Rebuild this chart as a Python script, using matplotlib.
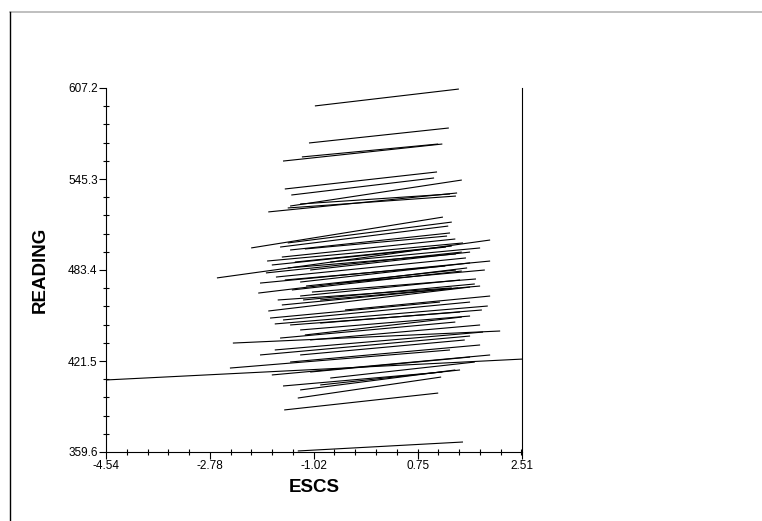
import matplotlib
matplotlib.use("Agg")
import matplotlib.pyplot as plt
from matplotlib.lines import Line2D
from matplotlib.ticker import AutoMinorLocator

plt.rcParams['font.family'] = ['Liberation Sans', 'DejaVu Sans']

# per-school regression lines of READING on ESCS
esc_lo = [-1.00, -1.10, -1.54, -1.22, -1.51, -1.40, -1.42, -1.79, -1.46, -1.25,
          -2.08, -1.46, -1.59, -1.42, -1.17, -1.81, -1.56, -2.66, -1.73, -1.93,
          -1.83, -1.46, -1.96, -1.25, -1.63, -1.39, -1.66, -1.15, -1.05, -1.79,
          -1.56, -1.20, -1.76, -1.68, -1.54, -0.91, -2.39, -1.17, -1.68, -2.44,
          -1.73, -1.54, -1.25, -1.29, -1.52, -1.29, -4.54, -1.34, -1.08, -1.51,
          -1.25, -0.91, -1.42, -1.25, -1.08, -1.59, -1.93, -1.25, -1.42, -1.08,
          -0.74, -0.91, -0.49, -0.74, -0.57]
esc_hi = [1.44, 1.27, 1.16, 1.09, 1.07, 1.02, 1.49, 1.41, 1.39, 1.29,
          1.17, 1.32, 1.26, 1.29, 1.24, 1.51, 1.38, 1.97, 1.22, 1.97,
          1.49, 1.39, 1.58, 1.63, 1.32, 1.49, 1.56, 1.39, 1.73, 1.63,
          1.43, 1.71, 1.12, 1.93, 1.63, 1.83, 2.14, 1.49, 1.85, 1.29,
          1.97, 1.16, 1.38, 1.14, 1.09, 1.51, 2.51, 1.32, 1.63, 1.21,
          1.46, 1.80, 1.46, 1.63, 1.80, 1.38, 1.63, 1.54, 1.80, 1.63,
          1.71, 1.46, 1.97, 1.80, 1.88]
read_lo = [595.0, 569.8, 557.5, 560.3, 538.5, 534.4, 526.9, 522.9, 525.6, 528.3,
           498.4, 501.8, 499.0, 497.0, 497.7, 489.5, 492.2, 478.0, 486.8, 474.5,
           481.4, 484.8, 467.7, 475.2, 463.0, 469.8, 478.6, 472.5, 468.4, 455.5,
           459.6, 463.0, 450.7, 446.7, 449.4, 447.3, 433.7, 439.2, 429.0, 416.7,
           412.0, 404.5, 401.8, 396.3, 388.2, 360.3, 408.6, 488.8, 483.4, 476.6,
           465.7, 463.0, 446.0, 442.6, 435.8, 437.1, 425.6, 425.6, 420.8, 414.0,
           409.9, 405.2, 456.2, 488.8, 474.5]
read_hi = [606.5, 580.0, 569.1, 569.1, 550.1, 546.0, 544.6, 535.8, 533.7, 535.1,
           519.4, 516.0, 513.3, 508.6, 506.5, 501.8, 504.5, 503.8, 499.0, 489.5,
           495.6, 494.3, 484.8, 488.2, 471.2, 482.7, 491.6, 483.4, 477.3, 471.8,
           471.2, 473.9, 461.6, 458.9, 461.6, 456.2, 441.9, 451.4, 441.2, 429.0,
           425.6, 414.0, 415.4, 410.6, 399.7, 366.4, 422.8, 499.7, 495.6, 486.1,
           476.6, 472.5, 454.8, 452.1, 446.0, 448.0, 438.5, 435.8, 432.4, 424.2,
           420.8, 415.4, 465.7, 498.4, 483.4]

x_ticks = [-4.54, -2.78, -1.02, 0.75, 2.51]
x_labels = ["-4.54", "-2.78", "-1.02", "0.75", "2.51"]
y_ticks = [359.6, 421.5, 483.4, 545.3, 607.2]
y_labels = ["359.6", "421.5", "483.4", "545.3", "607.2"]

fig = plt.figure(figsize=(7.62, 5.21), dpi=100)
ax = fig.add_axes([106 / 762, 69 / 521, 416 / 762, 364 / 521])

# draw each school's line
for i in range(len(esc_lo)):
    ax.plot([esc_lo[i], esc_hi[i]], [read_lo[i], read_hi[i]],
            color='black', linewidth=0.8, solid_capstyle='butt')

ax.set_xlim(x_ticks[0], x_ticks[-1])
ax.set_ylim(y_ticks[0], y_ticks[-1])
ax.set_xticks(x_ticks)
ax.set_xticklabels(x_labels)
ax.set_yticks(y_ticks)
ax.set_yticklabels(y_labels)
ax.xaxis.set_minor_locator(AutoMinorLocator(5))
ax.yaxis.set_minor_locator(AutoMinorLocator(5))
ax.tick_params(which='major', direction='out', length=5, width=0.8,
               labelsize=8.5, pad=1, color='black')
ax.tick_params(which='minor', direction='inout', length=4, width=0.8, color='black')

ax.spines['top'].set_visible(False)
for s in ['left', 'bottom', 'right']:
    ax.spines[s].set_linewidth(0.8)
    ax.spines[s].set_color('black')

ax.set_xlabel('ESCS', fontsize=13.5, fontweight='bold', labelpad=5)
ax.set_ylabel('READING', fontsize=13.5, fontweight='bold', labelpad=14)

# outer frame lines of the original window
fig.add_artist(Line2D([10 / 762, 1.0], [1 - 12 / 521, 1 - 12 / 521],
                      color='#b4b4b4', linewidth=1.2))
fig.add_artist(Line2D([10 / 762, 10 / 762], [0, 1 - 12 / 521],
                      color='black', linewidth=1.0))

plt.savefig("out.png", dpi=100)
